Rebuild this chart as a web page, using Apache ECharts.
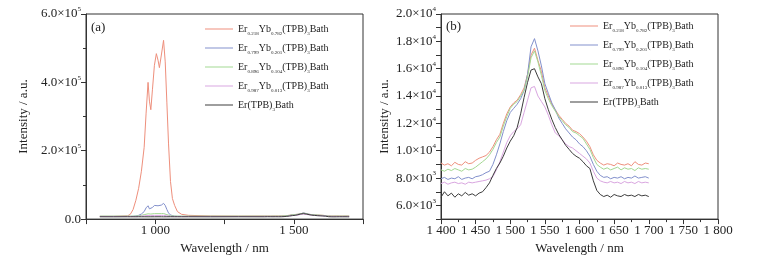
<!DOCTYPE html>
<html>
<head>
<meta charset="utf-8">
<script src="https://cdn.jsdelivr.net/npm/echarts@6/dist/echarts.min.js"></script>
<style>
body { margin: 0; background: #fff; }
#chart { width: 760px; height: 260px; }
</style>
</head>
<body>
<div id="chart"></div>
<script>
// legend labels: Er_a Yb_b (TPB)_3 Bath
const erSub = ['0.218', '0.799', '0.896', '0.987']
const ybSub = ['0.782', '0.201', '0.104', '0.013']
const names = ['Er0.218Yb0.782', 'Er0.799Yb0.201', 'Er0.896Yb0.104', 'Er0.987Yb0.013', 'Er(TPB)3Bath']
const colors = ['#ee8f7c', '#8290cc', '#a3d892', '#d9a6e0', '#3c3c3c']

// panel (a): 800 - 1395 nm, uneven sampling around the Yb peak
const waveA = [800, 850, 900, 910, 920, 930, 940, 950, 960, 967, 974, 979, 984, 990, 997, 1004, 1010, 1015, 1022, 1030, 1036, 1042, 1048, 1055, 1062, 1070, 1080, 1095, 1120, 1200, 1300, 1395]
const redA = [8000, 8000, 9500, 14000, 28000, 55000, 90000, 140000, 210000, 310000, 400000, 345000, 320000, 380000, 450000, 484000, 465000, 443000, 480000, 523000, 460000, 340000, 220000, 110000, 60000, 40000, 22000, 14000, 11000, 9200, 8800, 9000]
const blueA = [8000, 8000, 8000, 8100, 8200, 9000, 11000, 15000, 22000, 33000, 39000, 30000, 27000, 34000, 40000, 42000, 39000, 36000, 41000, 46000, 40000, 28000, 18000, 12000, 9500, 8500, 8200, 8000, 8000, 7900, 7900, 7950]
const greenA = [8600, 8600, 8600, 8600, 8700, 9000, 9800, 11000, 13000, 14500, 15500, 15000, 14800, 15500, 16000, 16200, 16000, 15800, 16000, 16300, 15000, 13000, 11000, 9800, 9200, 8900, 8700, 8600, 8600, 8600, 8600, 8600]
const pinkA = [7600, 7600, 7600, 7600, 7650, 7800, 8200, 8800, 9500, 10000, 10500, 10200, 10000, 10400, 10800, 11000, 10800, 10600, 10800, 11000, 10500, 9600, 8800, 8200, 7900, 7700, 7650, 7600, 7600, 7600, 7600, 7650]
const blackA = [6800, 6700, 6850, 6750, 6800, 6700, 6900, 6750, 6800, 6850, 6700, 6800, 6750, 6900, 6800, 6700, 6850, 6750, 6800, 6700, 6850, 6800, 6750, 6900, 6700, 6800, 6850, 6750, 6800, 6700, 6850, 6750]

// panel (b): 1400 - 1700 nm every 5 nm
const waveB = []
for (let w = 1400; w <= 1700; w += 5) waveB.push(w)
const redB = [9100, 8950, 9050, 8900, 9150, 9000, 8950, 9200, 9050, 9100,
  9300, 9450, 9550, 9650, 9900, 10300, 10800, 11200, 12000, 12700,
  13200, 13500, 13700, 14100, 14600, 15600, 17000, 17500, 16600, 15800,
  14600, 14000, 13400, 13000, 12600, 12300, 12000, 11800, 11500, 11400,
  11250, 11000, 10700, 10300, 9700, 9300, 9100, 8950, 9050, 9000,
  8900, 9100, 9000, 8950, 9050, 8900, 9200, 9000, 8950, 9100, 9050]
const greenB = [8600, 8500, 8650, 8550, 8700, 8600, 8500, 8700, 8600, 8650,
  8800, 9000, 9200, 9400, 9700, 10100, 10600, 11000, 11800, 12500,
  13100, 13400, 13600, 14000, 14400, 15400, 16800, 17300, 16500, 15500,
  14400, 13800, 13300, 12900, 12500, 12200, 11900, 11700, 11400, 11300,
  11100, 10900, 10500, 10100, 9500, 9000, 8800, 8650, 8750, 8600,
  8700, 8800, 8600, 8750, 8650, 8700, 8550, 8750, 8650, 8700, 8650]
const blueB = [7950, 8050, 7900, 8000, 7950, 8100, 7900, 8000, 8050, 7950,
  8100, 8150, 8250, 8400, 8500, 9000, 9700, 10500, 11400, 12200,
  12800, 13100, 13400, 13800, 14400, 15600, 17600, 18200, 17300, 16200,
  14900, 14200, 13500, 13000, 12400, 12000, 11600, 11300, 11000, 10800,
  10500, 10300, 10000, 9600, 9000, 8500, 8200, 8050, 8100, 7950,
  8050, 8000, 8100, 7950, 8050, 8000, 8150, 8000, 8050, 8100, 8000]
const pinkB = [7600, 7700, 7550, 7650, 7700, 7600, 7650, 7550, 7700, 7650,
  7700, 7750, 7800, 7850, 7950, 8100, 8600, 9200, 9900, 10600,
  11100, 11400, 11600, 11900, 12800, 13700, 14600, 14700, 14000, 13600,
  13200, 12600, 11900, 11300, 11100, 10800, 10500, 10300, 10200, 10000,
  9800, 9600, 9400, 9100, 8500, 8000, 7800, 7700, 7650, 7750,
  7650, 7700, 7600, 7750, 7650, 7700, 7600, 7750, 7650, 7700, 7650]
const blackB = [6600, 7000, 6700, 6900, 6600, 6850, 6700, 6950, 6750, 6850,
  6700, 6900, 7000, 7300, 7650, 8200, 8700, 9100, 9600, 10200,
  10700, 11100, 11700, 12700, 13900, 15000, 15900, 16000, 15400, 14900,
  13800, 13000, 12300, 11700, 11200, 10800, 10400, 10100, 9800, 9600,
  9450, 9200, 8900, 8700, 7800, 7100, 6800, 6650, 6750, 6600,
  6800, 6700, 6650, 6800, 6700, 6750, 6650, 6800, 6700, 6750, 6650]

const valsA = [redA, blueA, greenA, pinkA, blackA]
const valsB = [redB, blueB, greenB, pinkB, blackB]

function zip(xs, ys) {
  return xs.map((x, i) => [x, ys[i]])
}

function thousands(v) {
  const s = String(v)
  return s.length > 3 ? s.slice(0, s.length - 3) + ' ' + s.slice(-3) : s
}

const font = 'Liberation Serif'
const axisColor = '#333'

function legendFmt(name) {
  const i = names.indexOf(name)
  if (i === 4) return '{t|Er(TPB)}{s|3}{t|Bath}'
  return '{t|Er}{s|' + erSub[i] + '}{t|Yb}{s|' + ybSub[i] + '}{t|(TPB)}{s|3}{t|Bath}'
}

const legendRich = {
  t: { fontFamily: font, fontSize: 10, color: '#222', lineHeight: 14 },
  s: { fontFamily: font, fontSize: 5, color: '#222', verticalAlign: 'bottom', lineHeight: 6 }
}

const labelRich = {
  a: { fontFamily: font, fontSize: 13, color: '#222', lineHeight: 16 },
  s: { fontFamily: font, fontSize: 7, color: '#222', verticalAlign: 'top', lineHeight: 8 }
}

function baseAxis() {
  return {
    axisLine: { show: true, lineStyle: { color: axisColor, width: 1 } },
    axisTick: { show: true, inside: false, length: 5, lineStyle: { color: axisColor } },
    splitLine: { show: false },
    nameTextStyle: { fontFamily: font, fontSize: 13, color: '#222' }
  }
}

let chart = echarts.init(document.getElementById('chart'))

const series = []
for (let k = 0; k < 5; k++) {
  series.push({
    name: names[k], type: 'line', xAxisIndex: 0, yAxisIndex: 0,
    data: zip(waveA, valsA[k]).concat(zip(waveB, valsB[k])),
    symbol: 'none', smooth: false,
    lineStyle: { width: 1, color: colors[k] }, itemStyle: { color: colors[k] }
  })
}
for (let k = 0; k < 5; k++) {
  series.push({
    name: names[k] + ' ', type: 'line', xAxisIndex: 1, yAxisIndex: 1,
    data: zip(waveB, valsB[k]),
    symbol: 'none', smooth: false,
    lineStyle: { width: 1, color: colors[k] }, itemStyle: { color: colors[k] }
  })
}

const legendBase = {
  orient: 'vertical', icon: 'rect', itemWidth: 28, itemHeight: 1, itemGap: 7,
  textStyle: { rich: legendRich, padding: [0, 0, 0, 0] }
}

chart.setOption({
  backgroundColor: '#fff',
  animation: false,
  grid: [
    { left: 86, top: 14, width: 277, height: 208, show: true, borderColor: axisColor, borderWidth: 1 },
    { left: 441, top: 14, width: 277, height: 208, show: true, borderColor: axisColor, borderWidth: 1 }
  ],
  legend: [
    Object.assign({}, legendBase, { data: names, left: 200, top: 19, formatter: legendFmt }),
    Object.assign({}, legendBase, { data: names.map(n => n + ' '), left: 565, top: 16, formatter: n => legendFmt(n.slice(0, -1)) })
  ],
  xAxis: [
    Object.assign(baseAxis(), {
      type: 'value', gridIndex: 0, min: 750, max: 1750, interval: 250,
      name: 'Wavelength / nm', nameLocation: 'middle', nameGap: 21,
      axisLabel: {
        fontFamily: font, fontSize: 13, color: '#222', margin: 5,
        formatter: v => (v % 500 === 0 && v > 750 && v < 1750) ? thousands(v) : ''
      }
    }),
    Object.assign(baseAxis(), {
      type: 'value', gridIndex: 1, min: 1400, max: 1800, interval: 50,
      name: 'Wavelength / nm', nameLocation: 'middle', nameGap: 21,
      minorTick: { show: true, splitNumber: 2, length: 3, lineStyle: { color: axisColor } },
      axisLabel: { fontFamily: font, fontSize: 13, color: '#222', margin: 5, formatter: v => thousands(v) }
    })
  ],
  yAxis: [
    Object.assign(baseAxis(), {
      type: 'value', gridIndex: 0, min: 0, max: 600000, interval: 200000,
      name: 'Intensity / a.u.', nameLocation: 'middle', nameGap: 56, nameRotate: 90,
      minorTick: { show: true, splitNumber: 2, length: 3, lineStyle: { color: axisColor } },
      axisLabel: {
        margin: 5, rich: labelRich,
        formatter: v => v === 0 ? '{a|0.0}' : '{a|' + (v / 1e5).toFixed(1) + '×10}{s|5}'
      }
    }),
    Object.assign(baseAxis(), {
      type: 'value', gridIndex: 1, min: 5000, max: 20000, interval: 1000,
      name: 'Intensity / a.u.', nameLocation: 'middle', nameGap: 50, nameRotate: 90,
      axisLabel: {
        margin: 5, rich: labelRich,
        formatter: function (v) {
          if (v % 2000 !== 0) return ''
          if (v >= 10000) return '{a|' + (v / 1e4).toFixed(1) + '×10}{s|4}'
          return '{a|' + (v / 1e3).toFixed(1) + '×10}{s|3}'
        }
      }
    })
  ],
  graphic: [
    { type: 'text', left: 91, top: 21, style: { text: '(a)', fontFamily: font, fontSize: 13, fill: '#222' } },
    { type: 'text', left: 446, top: 20, style: { text: '(b)', fontFamily: font, fontSize: 13, fill: '#222' } }
  ],
  series: series
})
</script>
</body>
</html>
